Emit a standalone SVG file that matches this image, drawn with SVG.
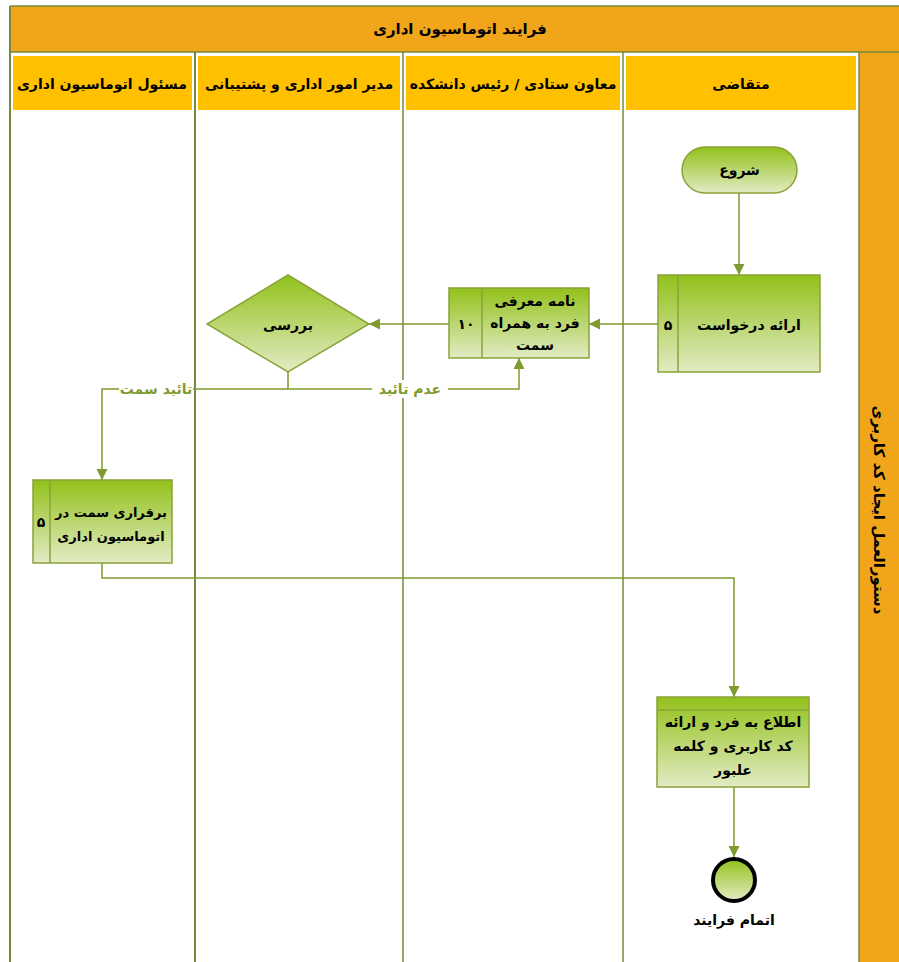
<svg xmlns="http://www.w3.org/2000/svg" width="899" height="962" viewBox="0 0 899 962">
<defs>
<linearGradient id="g" x1="0" y1="0" x2="0" y2="1">
<stop offset="0" stop-color="#92C11A"/>
<stop offset="1" stop-color="#E2EBC4"/>
</linearGradient>
<marker id="ah" viewBox="0 0 10 10" refX="10" refY="5" markerWidth="11" markerHeight="12" markerUnits="userSpaceOnUse" orient="auto">
<path d="M0,0 L10,5 L0,10 z" fill="#7F9A2E"/>
</marker>
<style>
.lane{stroke:#76893A;stroke-width:1.5;fill:none}
.hdr{fill:#FFC000}
.t{font-family:"DejaVu Sans",sans-serif;font-weight:bold;fill:#000;text-anchor:middle;dominant-baseline:central}
.h{font-size:14px}
.n{font-size:14px}
.lbl{font-family:"DejaVu Sans",sans-serif;font-weight:bold;fill:#7F9A2E;font-size:14px;text-anchor:middle;dominant-baseline:central}
.box{fill:url(#g);stroke:#8AA339;stroke-width:1.5}
.c{stroke:#7F9A2E;stroke-width:1.5;fill:none}
</style>
</defs>
<rect x="0" y="0" width="899" height="962" fill="#fff"/>
<g id="pool">
<rect x="10" y="6" width="889" height="46" fill="#F0A51B"/>
<rect x="859" y="52" width="40" height="910" fill="#F0A51B"/>
<line class="lane" x1="10" y1="6" x2="899" y2="6"/>
<line class="lane" x1="10" y1="52" x2="899" y2="52"/>
<line class="lane" x1="10" y1="6" x2="10" y2="962" style="stroke-width:2"/>
<line class="lane" x1="195" y1="52" x2="195" y2="962" style="stroke-width:2"/>
<line class="lane" x1="403" y1="52" x2="403" y2="962"/>
<line class="lane" x1="623" y1="52" x2="623" y2="962"/>
<line class="lane" x1="859" y1="52" x2="859" y2="962"/>
<text class="t" x="460" y="29" style="font-size:15px">فرایند اتوماسیون اداری</text>
<text class="t" x="879" y="510" transform="rotate(90 879 510)" style="font-size:15px">دستورالعمل ایجاد کد کاربری</text>
</g>
<g id="lane-headers">
<rect class="hdr" x="13" y="56" width="179" height="54"/>
<rect class="hdr" x="198" y="56" width="202" height="54"/>
<rect class="hdr" x="406" y="56" width="214" height="54"/>
<rect class="hdr" x="626" y="56" width="230" height="54"/>
<text class="t h" x="102" y="84">مسئول اتوماسیون اداری</text>
<text class="t h" x="299" y="84">مدیر امور اداری و پشتیبانی</text>
<text class="t h" x="513" y="84">معاون ستادی / رئیس دانشکده</text>
<text class="t h" x="741" y="84">متقاضی</text>
</g>
<g id="connectors">
<line class="c" x1="739" y1="193" x2="739" y2="275" marker-end="url(#ah)"/>
<line class="c" x1="658" y1="324" x2="589" y2="324" marker-end="url(#ah)"/>
<line class="c" x1="449" y1="324" x2="369" y2="324" marker-end="url(#ah)"/>
<polyline class="c" points="288,372 288,389 519,389 519,358" marker-end="url(#ah)"/>
<polyline class="c" points="288,389 102,389 102,480" marker-end="url(#ah)"/>
<polyline class="c" points="102,563 102,578 734,578 734,697" marker-end="url(#ah)"/>
<line class="c" x1="734" y1="787" x2="734" y2="857" marker-end="url(#ah)"/>
<rect x="372" y="380" width="76" height="18" fill="#fff"/>
<text class="lbl" x="410" y="389">عدم تائید</text>
<rect x="119" y="380" width="74" height="18" fill="#fff"/>
<text class="lbl" x="156" y="389">تائید سمت</text>
</g>
<g id="start">
<rect class="box" x="682" y="147" width="115" height="46" rx="23" ry="23"/>
<text class="t n" x="739.5" y="170">شروع</text>
</g>
<g id="request">
<rect class="box" x="658" y="275" width="162" height="97"/>
<line class="box" x1="678" y1="275" x2="678" y2="372"/>
<text class="t n" x="668" y="325">۵</text>
<text class="t n" x="749" y="325">ارائه درخواست</text>
</g>
<g id="letter">
<rect class="box" x="449" y="288" width="140" height="70"/>
<line class="box" x1="482" y1="288" x2="482" y2="358"/>
<text class="t n" x="466" y="324">۱۰</text>
<text class="t n" x="535" y="301">نامه معرفی</text>
<text class="t n" x="535" y="323">فرد به همراه</text>
<text class="t n" x="535" y="345">سمت</text>
</g>
<g id="review">
<polygon class="box" points="288,275 369,324 288,372 207,324"/>
<text class="t n" x="288" y="325">بررسی</text>
</g>
<g id="setup">
<rect class="box" x="33" y="480" width="139" height="83"/>
<line class="box" x1="50" y1="480" x2="50" y2="563"/>
<text class="t n" x="41" y="522">۵</text>
<text class="t n" x="111" y="512" style="font-size:13px">برقراری سمت در</text>
<text class="t n" x="111" y="536" style="font-size:13px">اتوماسیون اداری</text>
</g>
<g id="notify">
<rect class="box" x="657" y="697" width="152" height="90"/>
<line class="box" x1="657" y1="710" x2="809" y2="710"/>
<text class="t n" x="733" y="722">اطلاع به فرد و ارائه</text>
<text class="t n" x="733" y="746">کد کاربری و کلمه</text>
<text class="t n" x="733" y="770">علبور</text>
</g>
<g id="end">
<circle cx="734" cy="880" r="21" fill="url(#g)" stroke="#000" stroke-width="4"/>
<text class="t n" x="734" y="920">اتمام فرایند</text>
</g>
</svg>
